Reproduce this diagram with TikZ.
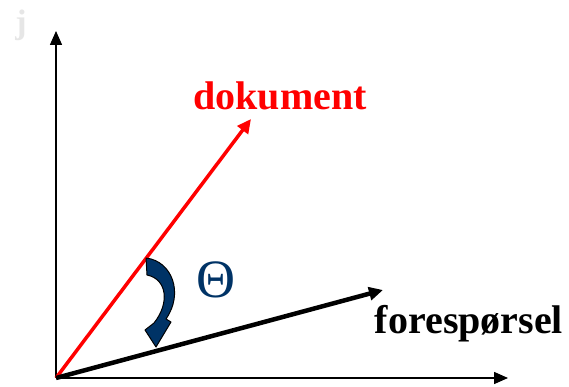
\documentclass[tikz,border=0pt]{standalone}
\usepackage{fontspec}
\setmainfont{Liberation Serif}
\usetikzlibrary{arrows.meta}
\definecolor{thetablue}{HTML}{003366}
\definecolor{jgray}{HTML}{E6E6E6}
\tikzset{
  axis/.style={line width=1.5pt,-{Triangle[length=14pt,width=12pt]}},
  vec/.style={-{Triangle[length=14pt,width=13pt]}},
  lbl/.style={font=\bfseries\fontsize{40}{42}\selectfont,inner sep=0pt,anchor=base},
}
\begin{document}
\begin{tikzpicture}[x=1pt,y=-1pt]
\useasboundingbox (0,0) rectangle (569,387);
\coordinate (O) at (56,378);
\coordinate (ytop) at (56,31);
\coordinate (xend) at (508,378);
\coordinate (doc) at (251,119);
\coordinate (fore) at (383,290);
\node[lbl,text=jgray,font=\bfseries\fontsize{34}{36}\selectfont] (j) at (21,34) {j};
\draw[axis] (O) -- (ytop);
\draw[axis] (O) -- (xend);
\draw[vec,red,line width=3.5pt] (O) -- (doc);
\draw[vec,black,line width=4.5pt] (O) -- (fore);
\node[lbl,text=red] (doclbl) at (280,110) {dokument};
\node[lbl] (forelbl) at (469,333) {forespørsel};
\node[inner sep=0pt,anchor=base,text=thetablue,font=\fontsize{54}{56}\selectfont] (theta) at (216,297) {Θ};
\draw[line width=1pt,fill=thetablue,line join=round]
  (146,258) .. controls (172,261) and (184,293) .. (166,319)
  -- (171,322) -- (156,347) -- (145,330) -- (154,323)
  .. controls (170,303) and (167,279) .. (147,275) -- cycle;
\end{tikzpicture}
\end{document}
